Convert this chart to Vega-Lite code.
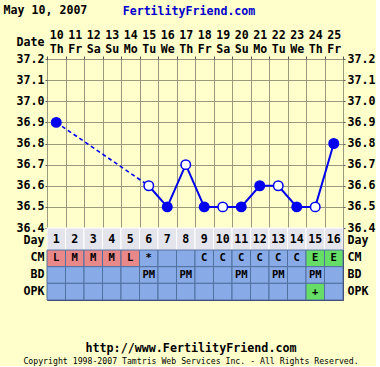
{
  "$schema": "https://vega.github.io/schema/vega-lite/v6.json",
  "background": "#FFFFCC",
  "padding": {"left": 3, "top": 5, "right": 0, "bottom": 0},
  "title": {"text": "May 10, 2007", "anchor": "start", "frame": "bounds", "font": "DejaVu Sans Mono", "fontSize": 11.6, "fontWeight": "bold", "color": "#000000", "dx": -12, "dy": 17},
  "datasets": {
    "d": [
      {"day": 1, "date": "10 Th", "temp": 36.9, "filled": true, "CM": "L", "BD": "", "OPK": ""},
      {"day": 2, "date": "11 Fr", "temp": null, "filled": false, "CM": "M", "BD": "", "OPK": ""},
      {"day": 3, "date": "12 Sa", "temp": null, "filled": false, "CM": "M", "BD": "", "OPK": ""},
      {"day": 4, "date": "13 Su", "temp": null, "filled": false, "CM": "M", "BD": "", "OPK": ""},
      {"day": 5, "date": "14 Mo", "temp": null, "filled": false, "CM": "L", "BD": "", "OPK": ""},
      {"day": 6, "date": "15 Tu", "temp": 36.6, "filled": false, "CM": "*", "BD": "PM", "OPK": ""},
      {"day": 7, "date": "16 We", "temp": 36.5, "filled": true, "CM": "", "BD": "", "OPK": ""},
      {"day": 8, "date": "17 Th", "temp": 36.7, "filled": false, "CM": "", "BD": "PM", "OPK": ""},
      {"day": 9, "date": "18 Fr", "temp": 36.5, "filled": true, "CM": "C", "BD": "", "OPK": ""},
      {"day": 10, "date": "19 Sa", "temp": 36.5, "filled": false, "CM": "C", "BD": "", "OPK": ""},
      {"day": 11, "date": "20 Su", "temp": 36.5, "filled": true, "CM": "C", "BD": "PM", "OPK": ""},
      {"day": 12, "date": "21 Mo", "temp": 36.6, "filled": true, "CM": "C", "BD": "", "OPK": ""},
      {"day": 13, "date": "22 Tu", "temp": 36.6, "filled": false, "CM": "C", "BD": "PM", "OPK": ""},
      {"day": 14, "date": "23 We", "temp": 36.5, "filled": true, "CM": "C", "BD": "", "OPK": ""},
      {"day": 15, "date": "24 Th", "temp": 36.5, "filled": false, "CM": "E", "BD": "PM", "OPK": "+"},
      {"day": 16, "date": "25 Fr", "temp": 36.8, "filled": true, "CM": "E", "BD": "", "OPK": ""}
    ]
  },
  "spacing": 0,
  "bounds": "flush",
  "vconcat": [
    {
      "width": 296,
      "height": 169,
      "title": {"text": "FertilityFriend.com", "anchor": "middle", "frame": "group", "font": "DejaVu Sans Mono", "fontSize": 11.6, "fontWeight": "bold", "color": "#0000CC", "dx": -6, "offset": 11},
      "data": {"name": "d"},
      "encoding": {
        "x": {"field": "date", "type": "ordinal", "scale": {"domain": ["10 Th","11 Fr","12 Sa","13 Su","14 Mo","15 Tu","16 We","17 Th","18 Fr","19 Sa","20 Su","21 Mo","22 Tu","23 We","24 Th","25 Fr"], "paddingInner": 0, "paddingOuter": 0},
          "axis": {"orient": "top", "title": "Date", "titleX": -3, "titleY": -17, "titleAlign": "right", "titleAngle": 0, "titleBaseline": "middle", "titleFont": "DejaVu Sans Mono", "titleFontSize": 11.6, "titleFontWeight": "bold", "labelExpr": "split(datum.label, ' ')", "labelAngle": 0, "labelLineHeight": 14, "labelPadding": 16, "labelBaseline": "bottom", "tickBand": "extent", "tickSize": 3, "tickColor": "#555555", "grid": true, "gridColor": "#999980", "gridOpacity": 1, "domain": false}}
      },
      "layer": [
        {
          "transform": [{"filter": "datum.temp != null && datum.day <= 6"}],
          "mark": {"type": "line", "color": "#0000EE", "strokeWidth": 1.6, "strokeDash": [4, 3]},
          "encoding": {
            "y": {"field": "temp", "type": "quantitative", "scale": {"domain": [36.4, 37.2], "nice": false, "zero": false},
              "axis": {"orient": "left", "title": null, "values": [36.4,36.5,36.6,36.7,36.8,36.9,37.0,37.1,37.2], "format": ".1f", "tickSize": 2, "tickColor": "#555555", "labelPadding": 1, "grid": true, "gridColor": "#999980", "gridOpacity": 1, "domain": false}}
          }
        },
        {
          "transform": [{"filter": "datum.temp != null && datum.day >= 6"}],
          "mark": {"type": "line", "color": "#0000EE", "strokeWidth": 2},
          "encoding": {
            "y": {"field": "temp", "type": "quantitative",
              "axis": {"orient": "right", "title": null, "values": [36.4,36.5,36.6,36.7,36.8,36.9,37.0,37.1,37.2], "format": ".1f", "tickSize": 2, "tickColor": "#555555", "labelPadding": 2, "grid": false, "domain": false}}
          }
        },
        {
          "transform": [{"filter": "datum.temp != null"}],
          "mark": {"type": "circle", "size": 90, "stroke": "#0000EE", "strokeWidth": 1.5, "opacity": 1},
          "encoding": {
            "y": {"field": "temp", "type": "quantitative", "axis": null},
            "fill": {"condition": {"test": "datum.filled", "value": "#0000EE"}, "value": "#FFFFFF"}
          }
        }
      ],
      "resolve": {"axis": {"y": "independent"}}
    },
    {
      "width": 296,
      "height": 22,
      "data": {"name": "d"},
      "layer": [
        {
          "mark": {"type": "rect", "fill": "#E4E4EC", "stroke": "#FFFFFF", "strokeWidth": 1},
          "encoding": {
            "x": {"field": "date", "type": "ordinal", "axis": null, "scale": {"paddingInner": 0, "paddingOuter": 0}},
            "y": {"datum": "Day", "type": "nominal", "axis": {"orient": "left", "title": null, "ticks": false, "domain": false, "labelPadding": 3, "labelOffset": 2}}
          }
        },
        {
          "mark": {"type": "text", "font": "DejaVu Sans Mono", "fontSize": 11.6, "fontWeight": "bold", "color": "#000000", "dy": 1},
          "encoding": {
            "x": {"field": "date", "type": "ordinal", "axis": null},
            "y": {"datum": "Day", "type": "nominal", "axis": {"orient": "right", "title": null, "ticks": false, "domain": false, "labelPadding": 4, "labelOffset": 2}},
            "text": {"field": "day"}
          }
        }
      ],
      "resolve": {"axis": {"y": "independent"}}
    },
    {
      "width": 296,
      "height": 50,
      "data": {"name": "d"},
      "transform": [{"fold": ["CM", "BD", "OPK"], "as": ["key", "value"]}],
      "title": {"text": "http://www.FertilityFriend.com", "subtitle": "Copyright 1998-2007 Tamtris Web Services Inc. - All Rights Reserved.", "orient": "bottom", "anchor": "middle", "frame": "group", "offset": 42, "font": "DejaVu Sans Mono", "fontSize": 11.7, "fontWeight": "bold", "color": "#000000", "subtitleFont": "DejaVu Sans Mono", "subtitleFontSize": 8.2, "subtitleColor": "#000000", "subtitlePadding": 4, "dx": -4},
      "layer": [
        {
          "mark": {"type": "rect", "stroke": "#5070A0", "strokeWidth": 1},
          "encoding": {
            "x": {"field": "date", "type": "ordinal", "axis": null, "scale": {"paddingInner": 0, "paddingOuter": 0}},
            "y": {"field": "key", "type": "nominal", "sort": ["CM", "BD", "OPK"], "scale": {"paddingInner": 0, "paddingOuter": 0},
              "axis": {"orient": "left", "title": null, "ticks": false, "domain": false, "labelPadding": 3}},
            "fill": {"field": "value", "type": "nominal", "legend": null,
              "scale": {"domain": ["L", "M", "E", "+", "C", "*", "", "PM"], "range": ["#E88888", "#E88888", "#66DD66", "#66DD66", "#88AAE6", "#88AAE6", "#88AAE6", "#88AAE6"]}}
          }
        },
        {
          "mark": {"type": "text", "font": "DejaVu Sans Mono", "fontSize": 10.5, "fontWeight": "bold", "color": "#000000"},
          "encoding": {
            "x": {"field": "date", "type": "ordinal", "axis": null},
            "y": {"field": "key", "type": "nominal", "sort": ["CM", "BD", "OPK"],
              "axis": {"orient": "right", "title": null, "ticks": false, "domain": false, "labelPadding": 4}},
            "text": {"field": "value"}
          }
        }
      ],
      "resolve": {"axis": {"y": "independent"}}
    }
  ],
  "config": {
    "font": "DejaVu Sans Mono",
    "view": {"stroke": "#333355", "strokeWidth": 1, "fill": "#FFFFCC"},
    "axis": {"labelFont": "DejaVu Sans Mono", "labelFontSize": 11.6, "labelFontWeight": "bold", "labelColor": "#000000"},
    "title": {"offset": 6}
  }
}
